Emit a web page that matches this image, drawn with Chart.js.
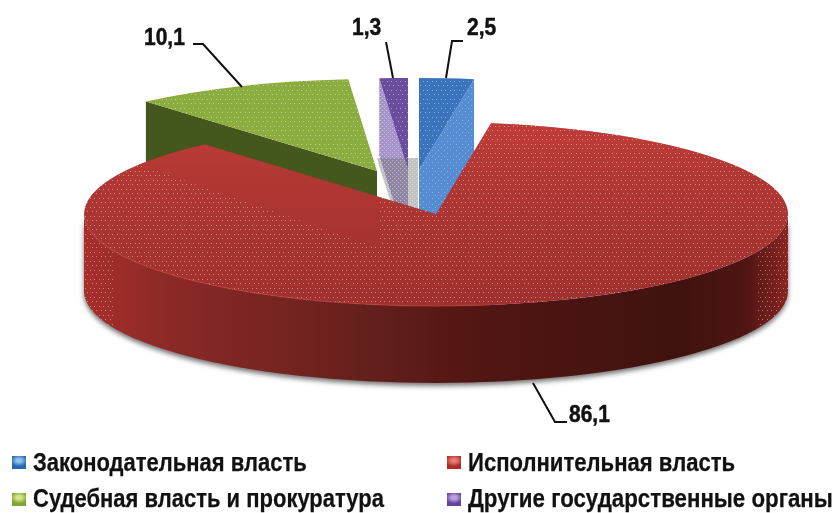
<!DOCTYPE html>
<html lang="ru">
<head>
<meta charset="utf-8">
<title>Pie</title>
<script src="https://cdn.jsdelivr.net/npm/chart.js@4/dist/chart.umd.min.js"></script>
<style>
    html, body { margin: 0; padding: 0; background: #fff; }
    #wrap { position: relative; width: 835px; height: 513px; overflow: hidden; }
    canvas { position: absolute; left: 0; top: 0; }
    .leg { position: absolute; white-space: nowrap; font: bold 26px "Liberation Sans", Arial, sans-serif; color: #111;
           transform-origin: left center; line-height: 26px; -webkit-text-stroke: 0.25px #111; }
    .box { position: absolute; width: 14px; height: 13px; }
</style>
</head>
<body>
<div id="wrap">
    <canvas id="grafico" width="835" height="513"></canvas>
</div>
<script>
// dados
const categories = ['Законодательная власть', 'Исполнительная власть', 'Судебная власть и прокуратура', 'Другие государственные органы'];
const values = [2.5, 86.1, 10.1, 1.3];
const faceColors = ['#3a74bd', '#a83431', '#8bad3f', '#6b4d9f'];
const wallColors = ['#558cd2', '#7a2320', '#44571c', '#a593ca'];
const legendColors = ['#2566ad', '#b02a2a', '#7fa534', '#63439c'];
const legendLights = ['#8dc0ec', '#e87a70', '#d3e68c', '#b9a2e2'];

// geometria da pizza "3D"
const cx = 436, cy = 214, rx = 352, ry = 92, depth = 77;
const shiftX = [-17, 0, -59, -28];
const shiftY = [-44, 0, -43, -44];
const legendPos = [[33, 449, 0.846], [468, 449, 0.85], [33, 485, 0.846], [468, 485, 0.857]];
const boxPos = [[12, 456], [447, 456], [12, 493], [447, 493]];

function dots(step, alpha) {
    const c = document.createElement('canvas');
    c.width = step * 2; c.height = step * 2;
    const g = c.getContext('2d');
    g.fillStyle = 'rgba(255,255,255,' + alpha + ')';
    g.fillRect(0, 0, 1, 1);
    g.fillRect(step, step, 1, 1);
    return c;
}

function sparseDots() {
    const c = document.createElement('canvas');
    c.width = 9; c.height = 9;
    const g = c.getContext('2d');
    g.fillStyle = 'rgba(255,255,255,0.42)';
    g.fillRect(0, 0, 1, 1);
    g.fillRect(4, 0, 1, 1);
    g.fillRect(2, 4, 1, 1);
    g.fillRect(6, 4, 1, 1);
    return c;
}

function facePath(ctx, arc, i) {
    const x = cx + shiftX[i], y = cy + shiftY[i];
    ctx.beginPath();
    ctx.moveTo(x, y);
    ctx.ellipse(x, y, rx, ry, 0, arc.startAngle, arc.endAngle);
    ctx.closePath();
}

function drawFace(ctx, arc, i) {
    ctx.save();
    ctx.translate(cx + shiftX[i], cy + shiftY[i]);
    ctx.scale(rx / arc.outerRadius, ry / arc.outerRadius);
    ctx.translate(-arc.x, -arc.y);
    arc.draw(ctx);
    ctx.restore();
}

// parede do corte radial da fatia
function radialPath(ctx, i, ang) {
    const x = cx + shiftX[i], y = cy + shiftY[i];
    const px = x + rx * Math.cos(ang), py = y + ry * Math.sin(ang);
    ctx.beginPath();
    ctx.moveTo(x, y);
    ctx.lineTo(px, py);
    ctx.lineTo(px, py + depth);
    ctx.lineTo(x, y + depth);
    ctx.closePath();
}

// parede externa, so a metade da frente
function outerWall(ctx, arc, i) {
    const x = cx + shiftX[i], y = cy + shiftY[i];
    const a0 = Math.max(arc.startAngle, 0), a1 = Math.min(arc.endAngle, Math.PI);
    ctx.beginPath();
    ctx.ellipse(x, y, rx, ry, 0, a0, a1);
    ctx.ellipse(x, y + depth, rx, ry, 0, a1, a0, true);
    ctx.closePath();
}

const pie3d = {
    id: 'pie3d',
    beforeDatasetDraw(chart) {
        const ctx = chart.ctx;
        const arcs = chart.getDatasetMeta(0).data;
        const pat = ctx.createPattern(sparseDots(), 'repeat');
        const dense = ctx.createPattern(dots(2, 0.4), 'repeat');
        const mid = ctx.createPattern(dots(3, 0.35), 'repeat');

        // paredes das fatias de tras
        radialPath(ctx, 2, arcs[2].startAngle);
        ctx.fillStyle = wallColors[2];
        ctx.fill();
        radialPath(ctx, 3, arcs[3].startAngle);
        ctx.fillStyle = wallColors[3];
        ctx.fill();
        ctx.fillStyle = dense;
        ctx.fill();
        radialPath(ctx, 0, arcs[0].endAngle);
        ctx.fillStyle = wallColors[0];
        ctx.fill();
        ctx.fillStyle = mid;
        ctx.fill();

        [2, 3, 0].forEach(i => drawFace(ctx, arcs[i], i));

        // textura das faces
        ctx.fillStyle = pat;
        [2, 3, 0].forEach(i => {
            facePath(ctx, arcs[i], i);
            ctx.fill();
        });

        // faixa cinza atras do recorte
        ctx.beginPath();
        ctx.moveTo(377, 158);
        ctx.lineTo(418, 158);
        ctx.lineTo(418, 218);
        ctx.lineTo(396, 218);
        ctx.lineTo(379, 166);
        ctx.closePath();
        ctx.fillStyle = 'rgba(110,110,110,0.42)';
        ctx.fill();
        ctx.fillStyle = dense;
        ctx.fill();

        // fatia vermelha
        const red = arcs[1];
        ctx.save();
        ctx.shadowColor = 'rgba(70,70,70,0.75)';
        ctx.shadowBlur = 5;
        ctx.shadowOffsetY = 3;
        outerWall(ctx, red, 1);
        const g = ctx.createLinearGradient(cx - rx, 0, cx + rx, 0);
        g.addColorStop(0, '#a82e2b');
        g.addColorStop(0.1, '#8f2a27');
        g.addColorStop(0.4, '#65201c');
        g.addColorStop(0.55, '#521613');
        g.addColorStop(0.85, '#3f120f');
        g.addColorStop(0.94, '#4f1512');
        g.addColorStop(1, '#8a2522');
        ctx.fillStyle = g;
        ctx.fill();
        ctx.restore();

        drawFace(ctx, red, 1);

        // brilho da face
        ctx.save();
        facePath(ctx, red, 1);
        ctx.clip();
        const v = ctx.createLinearGradient(0, 130, 0, 300);
        v.addColorStop(0, 'rgba(205,65,60,0.6)');
        v.addColorStop(0.5, 'rgba(190,60,55,0.1)');
        v.addColorStop(1, 'rgba(90,20,20,0.1)');
        ctx.fillStyle = v;
        ctx.fillRect(0, 0, 835, 513);
        // pontos, menos na cunha clara da esquerda
        ctx.beginPath();
        ctx.rect(0, 0, 835, 513);
        ctx.moveTo(125, 160);
        ctx.lineTo(207, 140);
        ctx.lineTo(380, 190);
        ctx.lineTo(380, 248);
        ctx.closePath();
        ctx.clip('evenodd');
        ctx.fillStyle = pat;
        ctx.fillRect(0, 0, 835, 513);
        ctx.restore();

        // pontos nas pontas da parede
        ctx.save();
        outerWall(ctx, red, 1);
        ctx.clip();
        ctx.fillStyle = pat;
        ctx.fillRect(cx - rx, 0, 30, 513);
        ctx.fillRect(cx + rx - 30, 0, 30, 513);
        ctx.restore();

        // aresta da frente
        ctx.beginPath();
        ctx.ellipse(cx, cy, rx - 0.5, ry, 0, Math.PI * 0.45, Math.PI * 0.98);
        ctx.strokeStyle = 'rgba(190,62,56,0.55)';
        ctx.lineWidth = 1.5;
        ctx.stroke();
        return false;
    },
    afterDatasetsDraw(chart) {
        const ctx = chart.ctx;
        const fmt = v => v.toFixed(1).replace('.', ',');
        // linhas de chamada
        const leaders = [
            [[463, 41], [452, 41], [446, 78]],
            [[533, 383], [555, 422], [567, 422]],
            [[193, 44], [203, 44], [242, 87]],
            [[386, 42], [393, 78]]
        ];
        const labelAt = [[467, 35], [569, 422], [144, 45], [352, 35]];
        ctx.save();
        ctx.strokeStyle = '#111';
        ctx.lineWidth = 2;
        leaders.forEach(p => {
            ctx.beginPath();
            p.forEach((q, k) => k ? ctx.lineTo(q[0], q[1]) : ctx.moveTo(q[0], q[1]));
            ctx.stroke();
        });
        ctx.fillStyle = '#111';
        ctx.strokeStyle = '#111';
        ctx.lineWidth = 0.5;
        ctx.font = 'bold 24px "Liberation Sans", Arial, sans-serif';
        ctx.textBaseline = 'alphabetic';
        values.forEach((v, i) => {
            ctx.save();
            ctx.translate(labelAt[i][0], labelAt[i][1]);
            ctx.scale(0.875, 1);
            ctx.fillText(fmt(v), 0, 0);
            ctx.strokeText(fmt(v), 0, 0);
            ctx.restore();
        });
        ctx.restore();
    }
};

new Chart(document.getElementById('grafico'), {
    type: 'pie',
    data: {
        labels: categories,
        datasets: [{ data: values, backgroundColor: faceColors, borderWidth: 0 }]
    },
    options: {
        responsive: false,
        animation: false,
        devicePixelRatio: 1,
        rotation: 0,
        plugins: { legend: { display: false }, tooltip: { enabled: false } }
    },
    plugins: [pie3d]
});

// legenda
const wrap = document.getElementById('wrap');
categories.forEach((nome, i) => {
    const b = document.createElement('div');
    b.className = 'box';
    b.style.left = boxPos[i][0] + 'px';
    b.style.top = boxPos[i][1] + 'px';
    b.style.background = 'radial-gradient(ellipse 60% 45% at 50% 35%, ' + legendLights[i] + ' 30%, ' + legendColors[i] + ' 100%)';
    wrap.appendChild(b);
    const d = document.createElement('div');
    d.className = 'leg';
    d.textContent = nome;
    d.style.left = legendPos[i][0] + 'px';
    d.style.top = legendPos[i][1] + 'px';
    d.style.transform = 'scaleX(' + legendPos[i][2] + ')';
    wrap.appendChild(d);
});
</script>
</body>
</html>
